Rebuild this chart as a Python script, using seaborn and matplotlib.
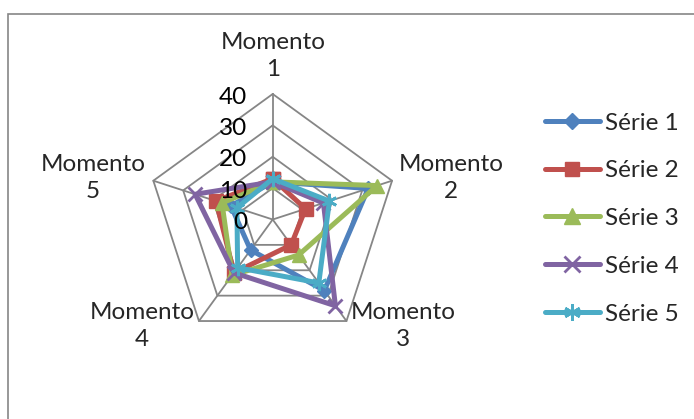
import numpy as np
import pandas as pd
import seaborn as sns
import matplotlib.pyplot as plt
from matplotlib.lines import Line2D
from matplotlib.patches import Rectangle
from matplotlib import transforms

sns.set_style("white")
plt.rcParams["font.family"] = ["Lato", "DejaVu Sans"]

# data
momentos = ["Momento\n1", "Momento\n2", "Momento\n3", "Momento\n4", "Momento\n5"]
serie_1 = [12, 32, 28, 12, 14]
serie_2 = [13, 11, 10, 21, 19]
serie_3 = [12, 35, 14, 22, 17]
serie_4 = [12, 17, 34, 21, 26]
serie_5 = [13, 19, 25, 19, 12]
series_names = ["Série 1", "Série 2", "Série 3", "Série 4", "Série 5"]
radial_ticks = [0, 10, 20, 30, 40]

colors = ["#4F81BD", "#C0504D", "#9BBB59", "#8064A2", "#4BACC6"]
markers = ["D", "s", "^", "x", (6, 2, 0)]
msizes = [7.5, 9.5, 10.5, 10.5, 11]
mews = [1, 1, 1, 2, 2]
grid_color = "#868686"
fs = 17.5

W, H = 694, 419
fig = plt.figure(figsize=(W / 100, H / 100), dpi=100)

# outer chart frame (cut off at right/bottom like the reference)
fig.patches.append(Rectangle((8 / W, -0.2), 1.3, 1.2 - 14 / H,
                             transform=fig.transFigure, fill=False,
                             edgecolor=grid_color, lw=1.2))

cx, cy, R = 272.7, 219.5, 125.5
ax = fig.add_axes([(cx - R) / W, (H - cy - R) / H, 2 * R / W, 2 * R / H],
                  projection="polar")
ax.set_theta_offset(np.pi / 2)
ax.set_theta_direction(-1)

n = len(momentos)
theta = np.linspace(0, 2 * np.pi, n, endpoint=False)
theta_closed = np.append(theta, 2 * np.pi)

# pentagon grid
for v in radial_ticks[1:]:
    ax.plot(theta_closed, [v] * (n + 1), color=grid_color, lw=1.3,
            clip_on=False, zorder=1)
for t in theta:
    ax.plot([t, t], [0, radial_ticks[-1]], color=grid_color, lw=1.3,
            clip_on=False, zorder=1)

all_series = [serie_1, serie_2, serie_3, serie_4, serie_5]
for i, vals in enumerate(all_series):
    df = pd.DataFrame({"theta": theta_closed, "valor": vals + [vals[0]]})
    sns.lineplot(data=df, x="theta", y="valor", ax=ax, sort=False,
                 estimator=None, color=colors[i], lw=3.6,
                 marker=markers[i], markersize=msizes[i],
                 markeredgecolor=colors[i], markeredgewidth=mews[i],
                 clip_on=False, legend=False, zorder=3 + i)

ax.set_ylim(0, radial_ticks[-1])
ax.grid(False)
ax.spines["polar"].set_visible(False)
ax.set_xticks([])
ax.set_yticks([])
ax.set_xlabel("")
ax.set_ylabel("")
ax.patch.set_alpha(0)

# radial tick labels on the top spoke
off = transforms.offset_copy(ax.transData, fig=fig, x=-18.5, y=-2.2, units="points")
for v in radial_ticks:
    ax.text(0, v, str(v), transform=off, ha="right", va="center",
            fontsize=fs, color="black", zorder=20)

# category labels
label_pos = [(273, 56), (451, 178), (403, 326), (142, 326), (93, 178)]
for lab, (px, py) in zip(momentos, label_pos):
    fig.text(px / W, 1 - py / H, lab, ha="center", va="center",
             multialignment="center", fontsize=fs, linespacing=1.33)

handles = [Line2D([], [], color=colors[i], lw=3.6, marker=markers[i],
                  markersize=msizes[i] + 1, markeredgecolor=colors[i],
                  markeredgewidth=mews[i]) for i in range(5)]
fig.legend(handles, series_names, loc="center left",
           bbox_to_anchor=(545 / W, 1 - 218.5 / H), frameon=False,
           fontsize=fs, handlelength=2.25, handletextpad=0.2,
           labelspacing=1.1, borderpad=0, borderaxespad=0)

fig.savefig("out.png", dpi=100)
